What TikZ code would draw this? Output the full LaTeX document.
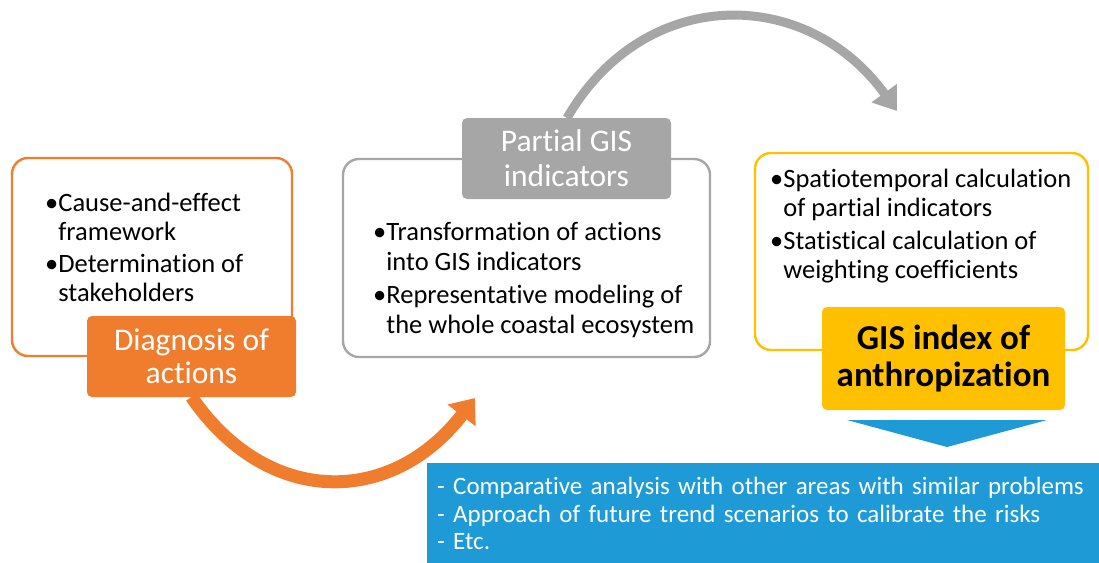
\documentclass[tikz,border=0pt]{standalone}
\usepackage{fontspec}
\setmainfont{Carlito}[Ligatures=NoCommon]
\usepackage{tikz}
\usetikzlibrary{arrows.meta, positioning}
\definecolor{actorange}{RGB}{240, 125, 45}
\definecolor{gisgray}{RGB}{166, 166, 166}
\definecolor{idxgold}{RGB}{255, 192, 0}
\definecolor{outblue}{RGB}{30, 155, 215}

\begin{document}
\begin{tikzpicture}[x=1pt, y=-1pt,
  frame/.style={draw, line width=2.4pt, rounded corners=16pt, inner sep=0pt},
  tagbox/.style={rounded corners=5pt, inner sep=0pt, minimum width=209pt, align=center, font=\fontsize{31.5}{33}\selectfont},
  bullets/.style={anchor=north west, inner sep=0pt, align=left, font=\fontsize{26.5}{29.5}\selectfont},
  bigarrow/.style={-{Triangle[length=22pt, width=#1]}}
]
  \useasboundingbox (0, 0) rectangle (1099, 562);

  % the three stages
  \node[frame, draw=actorange, minimum width=280pt, minimum height=198pt] (actframe) at (152, 257) {};
  \node[frame, draw=gisgray, minimum width=367pt, minimum height=198pt] (gisframe) at (526.5, 258) {};
  \node[frame, draw=idxgold, minimum width=333pt, minimum height=197pt] (idxframe) at (921.5, 251.5) {};

  \node[bullets] (acttext) at (45, 192.5) {\textbullet Cause-and-effect\\\hphantom{\textbullet}framework\\[2pt]\textbullet Determination of\\\hphantom{\textbullet}stakeholders};
  \node[bullets] (gistext) at (373, 222.5) {\textbullet Transformation of actions\\\hphantom{\textbullet}into GIS indicators\\[4pt]\textbullet Representative modeling of\\\hphantom{\textbullet}the whole coastal ecosystem};
  \node[bullets] (idxtext) at (770, 168.5) {\textbullet Spatiotemporal calculation\\\hphantom{\textbullet}of partial indicators\\[3pt]\textbullet Statistical calculation of\\\hphantom{\textbullet}weighting coefficients};

  % arrows between the stages
  \coordinate (orangetip) at (475, 398);
  \coordinate (graytip) at (897, 111);
  \draw[bigarrow=34pt, actorange, line width=13pt] (191.5, 397) .. controls (267, 507) and (391, 507) .. (orangetip);
  \draw[bigarrow=30pt, gisgray, line width=9pt] (567, 118) .. controls (644, -15) and (806, -15) .. (graytip);

  \node[tagbox, fill=actorange, text=white, minimum height=81pt] (diag) at (191.5, 356.5) {Diagnosis of\\actions};
  \node[tagbox, fill=gisgray, text=white, minimum height=81pt, font=\fontsize{31.5}{35}\selectfont] (partial) at (566.5, 158.5) {Partial GIS\\indicators};
  \node[tagbox, fill=idxgold, minimum width=243pt, minimum height=103pt, font=\fontsize{35}{37}\selectfont\bfseries] (anthro) at (943.5, 358.5) {GIS index of\\anthropization};

  % outcome
  \fill[outblue] (847, 420) -- (1047, 420) -- (947, 447) -- cycle;
  \node[fill=outblue, text=white, anchor=north west, inner xsep=10pt, text width=652pt, minimum height=101pt, align=left, font=\fontsize{25}{27.5}\selectfont] (outbox) at (427, 463) {- Comparative analysis with other areas with similar problems\\- Approach of future trend scenarios to calibrate the risks\\- Etc.};
\end{tikzpicture}
\end{document}
